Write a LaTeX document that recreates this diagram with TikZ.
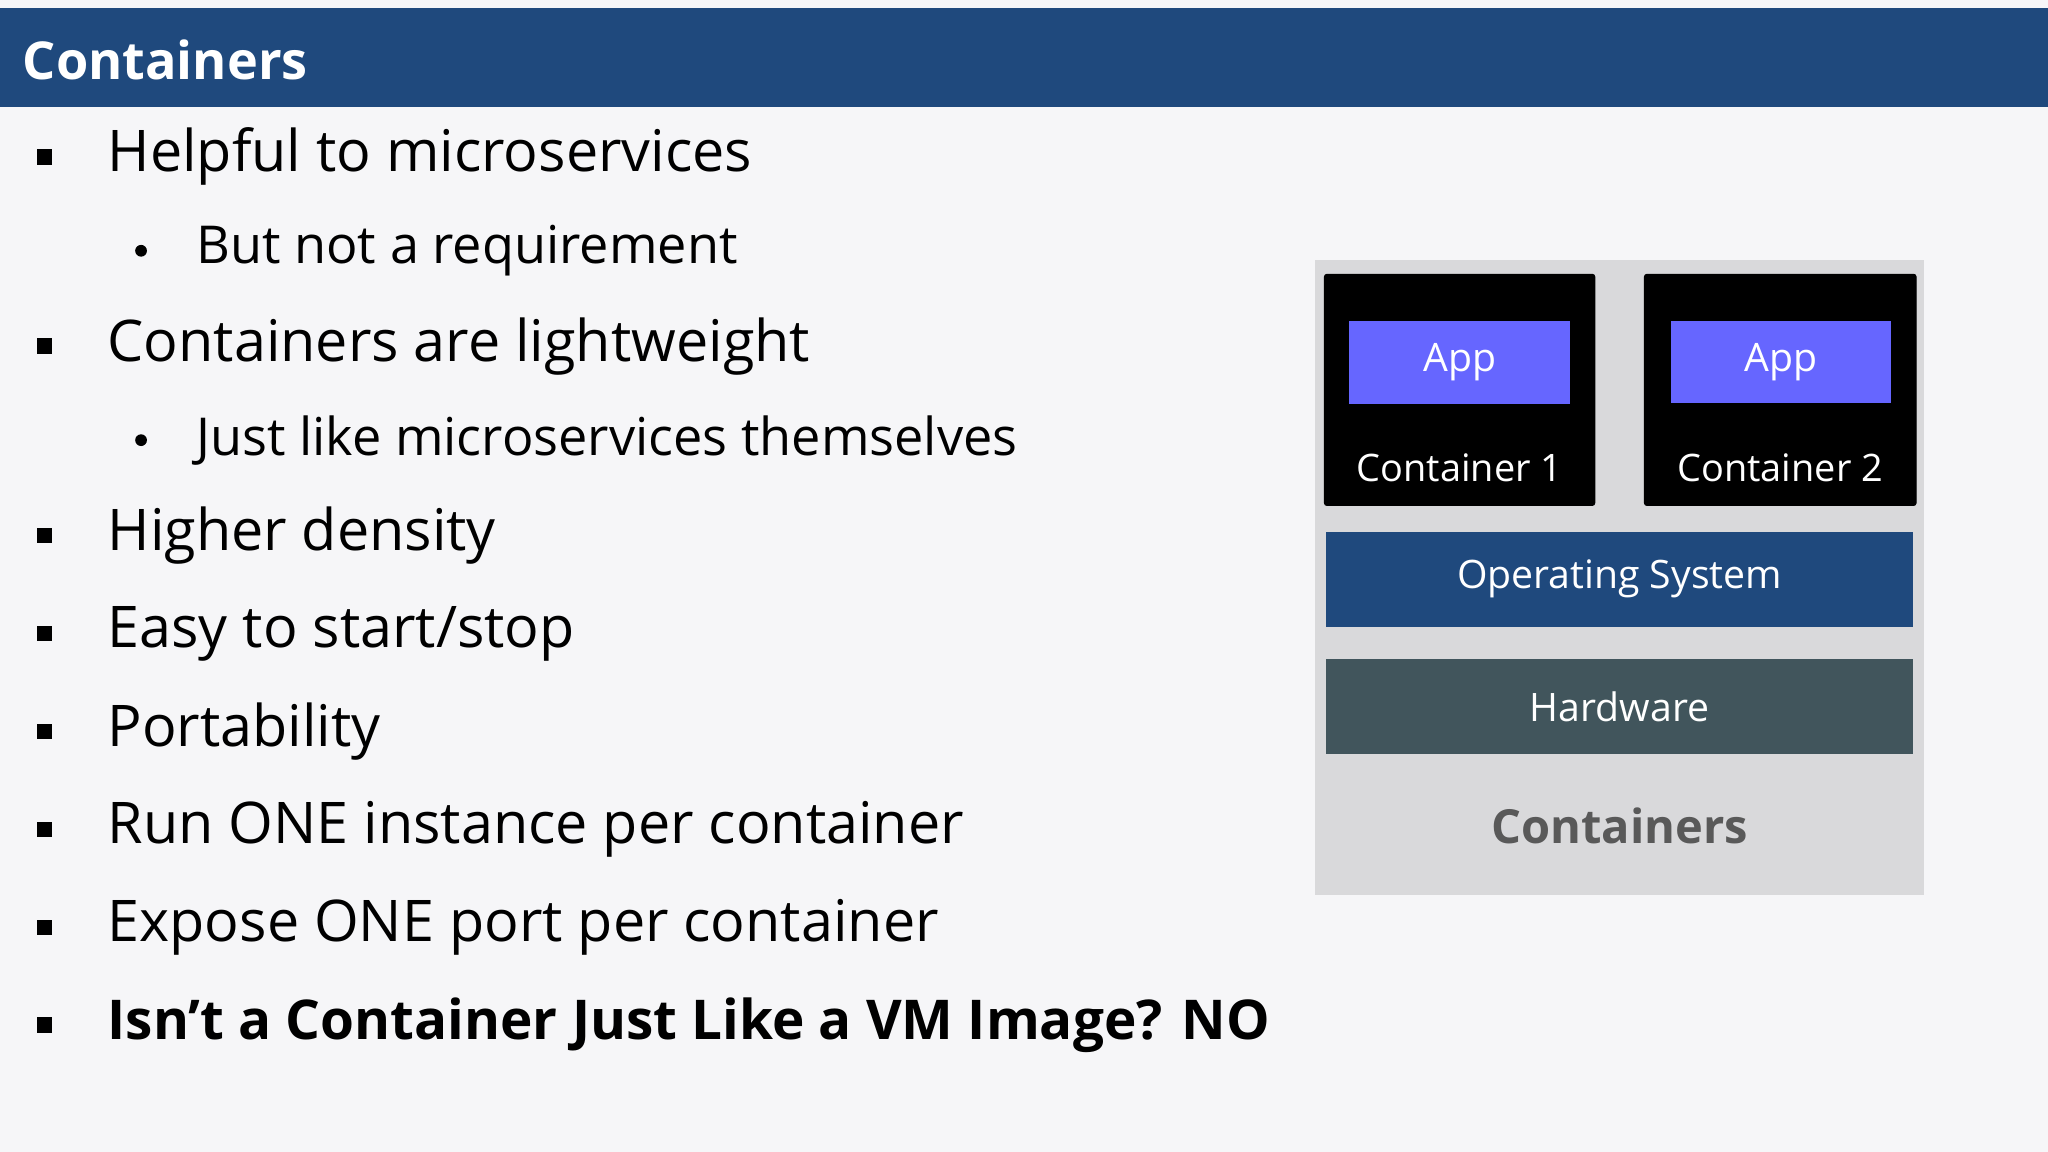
\documentclass[tikz,border=0pt]{standalone}
\usepackage{fontspec}
\setmainfont{Open Sans}
\definecolor{titleblue}{RGB}{31,73,125}
\definecolor{panel}{RGB}{217,217,219}
\definecolor{appblue}{RGB}{102,102,255}
\definecolor{hwgray}{RGB}{65,85,92}
\definecolor{bg}{RGB}{246,246,248}
\definecolor{captiongray}{RGB}{89,89,89}
\tikzset{
  bl/.style={anchor=west,font=\fontsize{22}{26}\selectfont,inner sep=0},
  sbl/.style={anchor=west,font=\fontsize{20}{24}\selectfont,inner sep=0},
  sq/.style={fill=black,minimum size=6pt,inner sep=0},
  dot/.style={circle,fill=black,minimum size=4.5pt,inner sep=0},
  layer/.style={draw=none,minimum width=225pt,minimum height=36.5pt,text=white,font=\fontsize{15}{18}\selectfont,inner sep=0},
  cont/.style={fill=black,rounded corners=1pt},
  app/.style={fill=appblue,minimum width=84.5pt,minimum height=31.5pt,text=white,font=\fontsize{15}{18}\selectfont,inner sep=0},
  ctext/.style={text=white,font=\fontsize{14.5}{17}\selectfont,inner sep=0}
}
\begin{document}
\begin{tikzpicture}[x=0.5pt,y=-0.5pt]
\useasboundingbox (0,0) rectangle (1568,882);
\fill[bg] (0,0) rectangle (1568,882);
\fill[titleblue] (0,6) rectangle (1568,82);
\node[anchor=west,text=white,font=\bfseries\fontsize{20}{24}\selectfont,inner sep=0] (title) at (17,46) {Containers};
% bullets
\foreach \y/\t [count=\i] in {120/Helpful to microservices,265/Containers are lightweight,410/Higher density,560/Portability,635/Run ONE instance per container,710/Expose ONE port per container}{
  \node[sq] (sq\i) at (34,\y) {};
  \node[bl] (b\i) at (82,\y) {\t};
}
\node[sq] (sq7) at (34,485) {};
\node[bl] (b7) at (82,485) {Easy to start/stop};
\node[sq] (sq8) at (34,785) {};
\node[bl,font=\bfseries\fontsize{21}{25}\selectfont] (b8) at (82,785) {Isn’t a Container Just Like a VM Image? NO};
\node[dot] (d1) at (108,192) {};
\node[sbl] (s1) at (150,192) {But not a requirement};
\node[dot] (d2) at (108,337) {};
\node[sbl] (s2) at (150,337) {Just like microservices themselves};
% diagram
\fill[panel] (1007,199) rectangle (1473,685);
\draw[cont] (1014,210) rectangle (1221,387);
\draw[cont] (1259,210) rectangle (1467,387);
\node[app] (app1) at (1117.5,277.5) {App};
\node[app] (app2) at (1363.5,277) {App};
\node[ctext] (c1) at (1117.5,358) {Container 1};
\node[ctext] (c2) at (1363,358) {Container 2};
\node[layer,fill=titleblue] (os) at (1240,443.5) {Operating System};
\node[layer,fill=hwgray] (hw) at (1240,541) {Hardware};
\node[text=captiongray,font=\bfseries\fontsize{18}{22}\selectfont,inner sep=0] (cap) at (1240,632) {Containers};
\end{tikzpicture}
\end{document}
